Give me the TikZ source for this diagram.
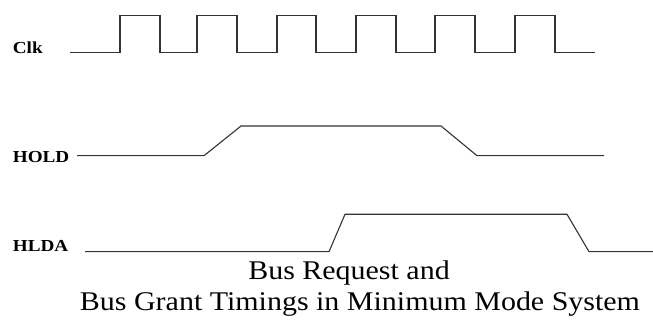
\documentclass[tikz,border=0pt]{standalone}
\usepackage{graphicx}
\usepackage{fontspec}
\setmainfont{Liberation Serif}
\newcommand{\widen}[2][1.14]{\scalebox{#1}[1]{#2}}
\tikzset{
  wave/.style={draw=black!80, line width=1.1pt, line join=miter},
  siglabel/.style={anchor=base west, inner sep=0pt,
    font=\fontsize{16.8}{19}\selectfont\bfseries},
  titleline/.style={anchor=base, inner sep=0pt,
    font=\fontsize{27}{31}\selectfont}
}
\begin{document}
\begin{tikzpicture}[x=1pt,y=1pt]
\useasboundingbox (0,0) rectangle (653,320);

% signal names
\node[siglabel] (clk)  at (12.7,266) {\widen{Clk}};
\node[siglabel] (hold) at (12.7,157.3) {\widen{HOLD}};
\node[siglabel] (hlda) at (12.7,68.3) {\widen{HLDA}};

% clock: six pulses
\draw[wave] (70,267.5)
  -- (120,267.5) -- (120,304.5) -- (160,304.5) -- (160,267.5)
  -- (197,267.5) -- (197,304.5) -- (237,304.5) -- (237,267.5)
  -- (277,267.5) -- (277,304.5) -- (316,304.5) -- (316,267.5)
  -- (356,267.5) -- (356,304.5) -- (396,304.5) -- (396,267.5)
  -- (435,267.5) -- (435,304.5) -- (475,304.5) -- (475,267.5)
  -- (515,267.5) -- (515,304.5) -- (555,304.5) -- (555,267.5)
  -- (595,267.5);

% HOLD request
\draw[wave] (77,164.3) -- (204,164.3) -- (241,194) -- (441,194)
  -- (477,164.3) -- (604,164.3);

% HLDA acknowledge
\draw[wave] (85,68.3) -- (329,68.3) -- (345,105.7) -- (567,105.7)
  -- (589,68.3) -- (653,68.3);

% caption
\node[titleline] (cap1) at (349,40) {\widen[1.11]{Bus Request and}};
\node[titleline] (cap2) at (360,9) {\widen[1.11]{Bus Grant Timings in Minimum Mode System}};
\end{tikzpicture}
\end{document}
